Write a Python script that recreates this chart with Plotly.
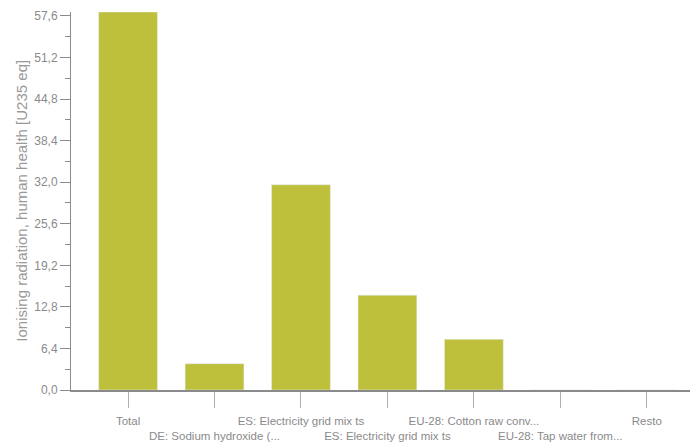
import plotly.graph_objects as go

categories = ["Total", "DE: Sodium hydroxide (...", "ES: Electricity grid mix ts",
              "ES: Electricity grid mix ts", "EU-28: Cotton raw conv...",
              "EU-28: Tap water from...", "Resto"]
values = [58.2, 4.05, 31.6, 14.6, 7.8, 0.0, 0.0]
y_ticks = [0, 6.4, 12.8, 19.2, 25.6, 32.0, 38.4, 44.8, 51.2, 57.6]

xpos = list(range(len(categories)))
ticktext = [c if i % 2 == 0 else "<br>" + c for i, c in enumerate(categories)]

grey = "#8a8a8a"
font_fam = "Liberation Sans Narrow, Liberation Sans, Arial, sans-serif"

fig = go.Figure(go.Bar(x=xpos, y=values, marker_color="#bec03b", width=0.68))

fig.update_layout(
    width=693, height=448,
    margin=dict(l=71, r=3, t=12, b=58),
    plot_bgcolor="white", paper_bgcolor="white",
    separators=",.",
    showlegend=False,
    font=dict(family=font_fam, color=grey, size=12),
    annotations=[dict(
        text="Ionising radiation, human health [U235 eq]",
        xref="paper", yref="paper", x=(20.7 - 71) / 619, y=0.5,
        xanchor="center", yanchor="middle", textangle=-90, showarrow=False,
        font=dict(family="Liberation Sans, Arial, sans-serif", size=15, color="#9a9a9a"))],
)
fig.update_xaxes(
    range=[-0.66, 6.5], tickmode="array", tickvals=xpos, ticktext=ticktext,
    tickangle=0, automargin=False, ticklabelstandoff=3,
    ticks="outside", ticklen=16, tickcolor="#b0b0b0", tickwidth=1,
    showline=True, linecolor="#8a8a8a", linewidth=2, showgrid=False,
    tickfont=dict(size=11.5, color=grey), zeroline=False,
)
fig.update_yaxes(
    range=[0, 58.2], tickmode="array", tickvals=y_ticks, automargin=False,
    ticktext=[f"{v:.1f}".replace(".", ",") for v in y_ticks],
    ticks="outside", ticklen=10, tickcolor="#8a8a8a", tickwidth=1,
    minor=dict(tickmode="linear", tick0=0, dtick=3.2, ticks="outside", ticklen=5, tickcolor="#8a8a8a"),
    showline=True, linecolor="#8a8a8a", linewidth=1, showgrid=False,
    zeroline=False, tickfont=dict(size=12, color=grey),
)

fig.write_html("out.html", config={"displayModeBar": False},
               post_script="document.body.style.margin='0px';")
